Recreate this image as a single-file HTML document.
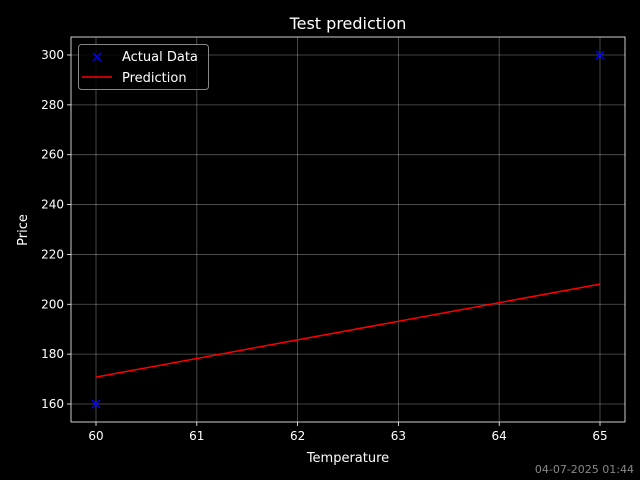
<!DOCTYPE html>
<html><head><meta charset="utf-8"><style>
body{margin:0;background:#000;}
svg{display:block;font-family:"DejaVu Sans","Liberation Sans",sans-serif;}
</style></head><body>
<svg id="chart" width="640" height="480"></svg>
<script>
const xTicks=[60,61,62,63,64,65];
const yTicks=[160,180,200,220,240,260,280,300];
const actualX=[60,65];
const actualY=[160,300];
const predX=[60,65];
const predY=[170.8,208.1];
const L=71,R=625,T=37,B=422;
const xs=v=>96+(v-60)*100.8;
const ys=v=>404-(v-160)*2.493;
const svg=document.getElementById('chart');
const NS='http://www.w3.org/2000/svg';
function mk(tag,attrs,parent){const e=document.createElementNS(NS,tag);for(const k in attrs)e.setAttribute(k,attrs[k]);(parent||svg).appendChild(e);return e;}
let e;
e=mk('rect',{x:L,y:T,width:R-L,height:B-T,fill:'#000'});


xTicks.forEach(v=>{const x=xs(v);
 e=mk('line',{x1:x,x2:x,y1:T,y2:B,stroke:'#fff','stroke-opacity':0.35,'stroke-width':0.8});
 
 
 mk('line',{x1:x,x2:x,y1:B,y2:B+4,stroke:'#fff','stroke-width':0.8});
 e=mk('text',{x:x,y:B+18,fill:'#fff','font-size':12,'text-anchor':'middle'});e.textContent=v;
 
 
});
yTicks.forEach(v=>{const y=ys(v);
 e=mk('line',{x1:L,x2:R,y1:y,y2:y,stroke:'#fff','stroke-opacity':0.35,'stroke-width':0.8});
 
 
 mk('line',{x1:L-4,x2:L,y1:y,y2:y,stroke:'#fff','stroke-width':0.8});
 e=mk('text',{x:L-7,y:y+4,fill:'#fff','font-size':12,'text-anchor':'end'});e.textContent=v;
 
 
});
e=mk('polyline',{points:predX.map((v,i)=>xs(v)+','+ys(predY[i])).join(' '),stroke:'#f00','stroke-width':1.5,fill:'none'});


actualX.forEach((v,i)=>{const x=xs(v),y=ys(actualY[i]);
 e=mk('path',{d:`M${x-4},${y-4}L${x+4},${y+4}M${x-4},${y+4}L${x+4},${y-4}`,stroke:'#00f','stroke-width':1.5});
 
 
});
e=mk('rect',{x:L,y:T,width:R-L,height:B-T,fill:'none',stroke:'#fff','stroke-width':0.8});


e=mk('text',{x:348,y:29,fill:'#fff','font-size':16,'text-anchor':'middle'});e.textContent='Test prediction';


e=mk('text',{x:348,y:462,fill:'#fff','font-size':13,'text-anchor':'middle'});e.textContent='Temperature';


e=mk('text',{x:27,y:230,fill:'#fff','font-size':13,'text-anchor':'middle',transform:'rotate(-90 27 230)'});e.textContent='Price';


const lg=mk('g',{});


mk('rect',{x:78.5,y:44.5,width:130,height:45,rx:3,fill:'#000','fill-opacity':0.8,stroke:'#888'},lg);
mk('path',{d:'M93,53L101,61M93,61L101,53',stroke:'#00f','stroke-width':1.5},lg);
e=mk('text',{x:122,y:61,fill:'#fff','font-size':13},lg);e.textContent='Actual Data';


mk('line',{x1:82,x2:112,y1:77,y2:77,stroke:'#f00','stroke-width':1.5},lg);
e=mk('text',{x:122,y:82,fill:'#fff','font-size':13},lg);e.textContent='Prediction';


e=mk('text',{x:634,y:473,fill:'#888','font-size':11,'text-anchor':'end'});e.textContent='04-07-2025 01:44';


</script>
</body></html>
